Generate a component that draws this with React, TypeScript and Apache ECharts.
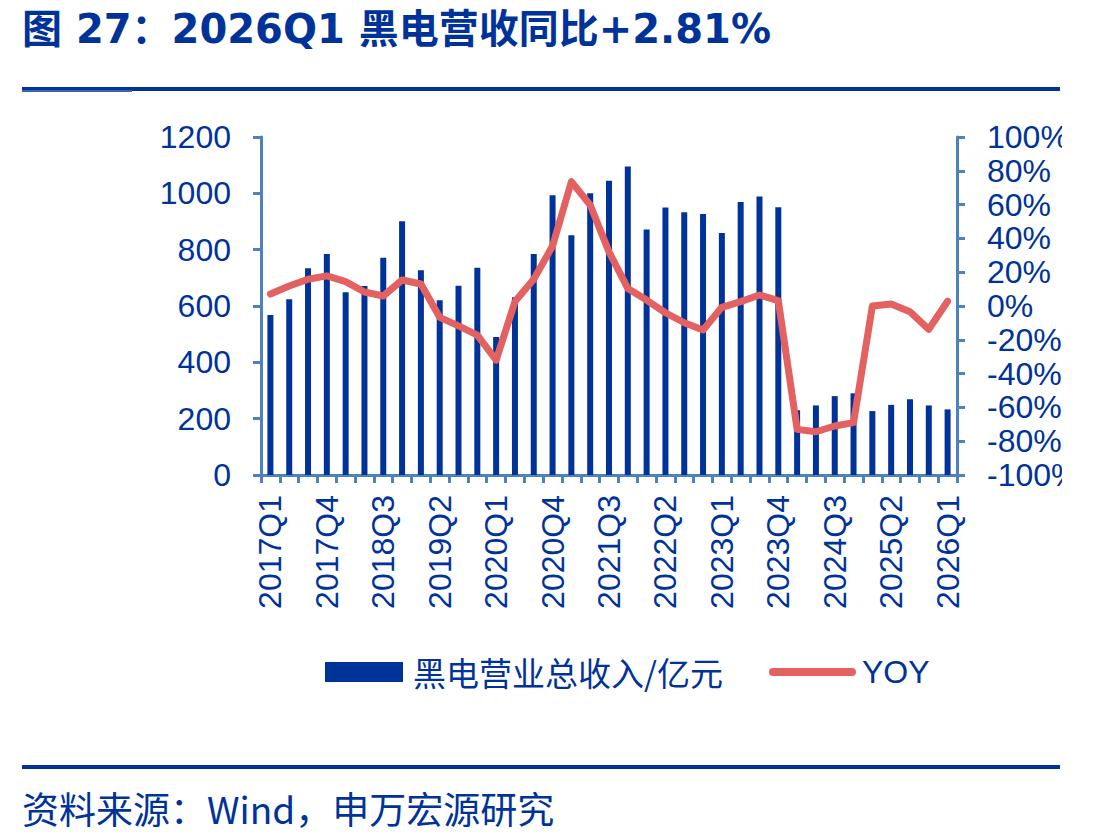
import React, { useEffect, useRef } from "react";
import * as echarts from "echarts";

// Quarterly TV (黑电) revenue, 100 million yuan, and its year-on-year change
const quarters = [
  "2017Q1", "2017Q2", "2017Q3", "2017Q4",
  "2018Q1", "2018Q2", "2018Q3", "2018Q4",
  "2019Q1", "2019Q2", "2019Q3", "2019Q4",
  "2020Q1", "2020Q2", "2020Q3", "2020Q4",
  "2021Q1", "2021Q2", "2021Q3", "2021Q4",
  "2022Q1", "2022Q2", "2022Q3", "2022Q4",
  "2023Q1", "2023Q2", "2023Q3", "2023Q4",
  "2024Q1", "2024Q2", "2024Q3", "2024Q4",
  "2025Q1", "2025Q2", "2025Q3", "2025Q4",
  "2026Q1",
];

const revenue = [
  568, 624, 734, 785,
  649, 671, 771, 901,
  727, 620, 672, 736,
  490, 631, 785, 993,
  851, 1000, 1045, 1095,
  872, 950, 933, 927,
  859, 969, 989, 951,
  230, 247, 280, 290,
  227, 249, 269, 247,
  233,
];

const yoy = [
  7.1, 11.8, 15.8, 17.8,
  14.4, 8.3, 5.9, 15.4,
  13.0, -6.7, -11.8, -17.2,
  -32.0, 2.6, 15.8, 35.5,
  73.6, 59.8, 32.0, 10.4,
  3.5, -4.0, -9.9, -14.2,
  -0.8, 2.6, 6.5, 3.2,
  -73.0, -74.4, -71.0, -69.0,
  0.0, 1.2, -3.4, -13.8,
  2.81,
];

const revenueTicks = { min: 0, max: 1200, interval: 200 };
const yoyTicks = { min: -100, max: 100, interval: 20 };

const BLUE = "#003399";
const AXIS = "#4f81bd";
const RED = "#e36161";
const LATIN = "'Liberation Sans', Arial, sans-serif";
const CJK = "'Noto Sans CJK SC', 'Liberation Sans', sans-serif";
const TITLE_FONT = "'DejaVu Sans', 'Noto Sans CJK SC', sans-serif";

const seriesNames = ["黑电营业总收入/亿元", "YOY"];
const titleText = "图 27：2026Q1 黑电营收同比+2.81%";
const sourceText = "资料来源：Wind，申万宏源研究";

export default function App() {
  const ref = useRef<HTMLDivElement>(null);

  useEffect(() => {
    if (!ref.current) return;
    const chart = echarts.init(ref.current, undefined, { renderer: "svg" });

    const axisLine = { show: true, lineStyle: { color: AXIS, width: 3 } };
    const axisTick = { show: true, length: 8, lineStyle: { color: AXIS, width: 3 } };
    const axisLabelBase = { color: BLUE, fontSize: 32, fontFamily: LATIN };

    chart.setOption({
      animation: false,
      backgroundColor: "#ffffff",
      grid: {
        left: 261,
        right: 105,
        top: 137,
        bottom: 365,
        containLabel: false,
        outerBoundsMode: "none",
      },
      xAxis: {
        type: "category",
        data: quarters,
        boundaryGap: true,
        axisLine,
        axisTick: { ...axisTick, interval: 0, alignWithLabel: false },
        axisLabel: { ...axisLabelBase, interval: 2, rotate: 90, margin: 20 },
        splitLine: { show: false },
      },
      yAxis: [
        {
          type: "value",
          position: "left",
          ...revenueTicks,
          axisLine,
          axisTick,
          axisLabel: { ...axisLabelBase, margin: 30, formatter: (v: number) => String(v) },
          splitLine: { show: false },
        },
        {
          type: "value",
          position: "right",
          ...yoyTicks,
          axisLine,
          axisTick,
          axisLabel: { ...axisLabelBase, margin: 30, formatter: (v: number) => `${v}%` },
          splitLine: { show: false },
        },
      ],
      series: [
        {
          name: seriesNames[0],
          type: "bar",
          data: revenue,
          yAxisIndex: 0,
          barWidth: 6,
          itemStyle: { color: BLUE },
        },
        {
          name: seriesNames[1],
          type: "line",
          data: yoy,
          yAxisIndex: 1,
          showSymbol: false,
          symbol: "none",
          lineStyle: { color: RED, width: 7, cap: "round", join: "round" },
          itemStyle: { color: RED },
        },
      ],
      graphic: [
        {
          type: "text",
          x: 22,
          y: 29,
          style: {
            text: titleText,
            fill: BLUE,
            font: `bold 40px ${TITLE_FONT}`,
            verticalAlign: "middle",
          },
        },
        { type: "rect", shape: { x: 22, y: 87, width: 1038, height: 4 }, style: { fill: BLUE } },
        { type: "rect", shape: { x: 22, y: 90, width: 110, height: 2 }, style: { fill: "#3f63b8" } },
        // legend
        { type: "rect", shape: { x: 325, y: 662, width: 78, height: 20 }, style: { fill: BLUE } },
        {
          type: "text",
          x: 413,
          y: 672,
          style: {
            text: seriesNames[0],
            fill: BLUE,
            font: `33px ${CJK}`,
            verticalAlign: "middle",
          },
        },
        {
          type: "line",
          shape: { x1: 773, y1: 672, x2: 852, y2: 672 },
          style: { stroke: RED, lineWidth: 8, lineCap: "round" },
        },
        {
          type: "text",
          x: 862,
          y: 672,
          style: {
            text: seriesNames[1],
            fill: BLUE,
            font: `32px ${LATIN}`,
            verticalAlign: "middle",
          },
        },
        { type: "rect", shape: { x: 22, y: 765, width: 1038, height: 4 }, style: { fill: BLUE } },
        {
          type: "text",
          x: 22,
          y: 808,
          style: {
            text: sourceText,
            fill: BLUE,
            font: `37px ${CJK}`,
            verticalAlign: "middle",
          },
        },
      ],
    });

    return () => chart.dispose();
  }, []);

  return (
    <div
      style={{
        position: "fixed",
        left: 0,
        top: 0,
        width: 1113,
        height: 840,
        background: "#ffffff",
        overflow: "hidden",
      }}
    >
      <div ref={ref} style={{ position: "absolute", left: 0, top: 0, width: 1062, height: 840, overflow: "hidden" }} />
    </div>
  );
}
